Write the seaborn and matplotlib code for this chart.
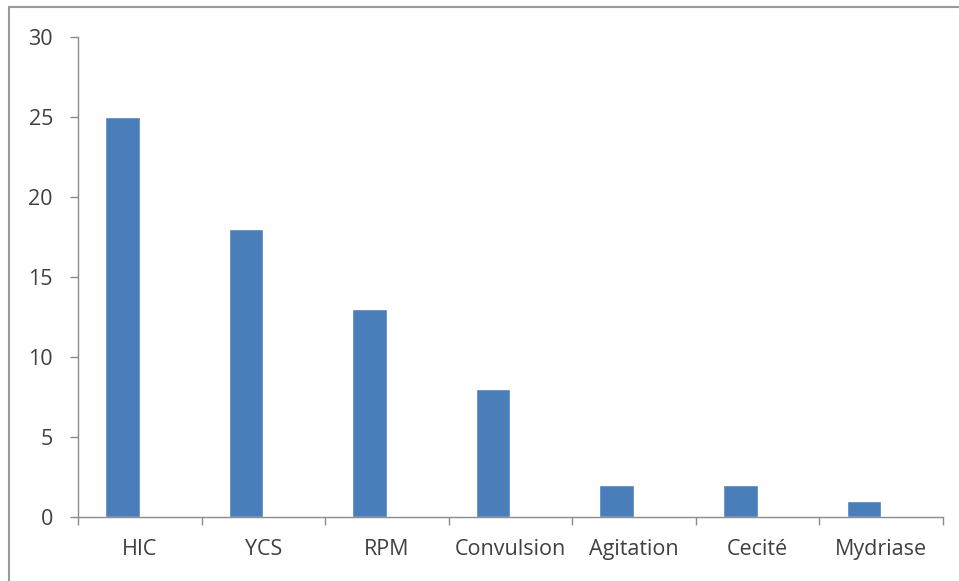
import numpy as np
import pandas as pd
import matplotlib.pyplot as plt
import seaborn as sns
from matplotlib.patches import Rectangle

CATEGORIES = ["HIC", "YCS", "RPM", "Convulsion", "Agitation", "Cecité", "Mydriase"]
VALUES = [25, 18, 13, 8, 2, 2, 1]
SERIES = ["Série 1", "Série 2"]  # second series empty, as in the source sheet
Y_TICKS = [0, 5, 10, 15, 20, 25, 30]

BAR_COLOR = "#4A7EBB"
AXIS_COLOR = "#8C8C8C"
TEXT_COLOR = "#404040"


def main():

    sns.set_theme(style="white")
    plt.rcParams["font.family"] = ["Open Sans", "DejaVu Sans"]

    df = pd.DataFrame({"category": CATEGORIES, "value": VALUES,
                       "series": [SERIES[0]] * len(CATEGORIES)})

    fig = plt.figure(figsize=(9.59, 5.81), dpi=100)
    ax = fig.add_axes([0.0813, 0.1102, 0.902, 0.8261])

    sns.barplot(data=df, x="category", y="value", order=CATEGORIES,
                hue="series", hue_order=SERIES,
                palette=[BAR_COLOR, BAR_COLOR], saturation=1,
                width=0.56, dodge=True, ax=ax)
    legend = ax.get_legend()
    if legend is not None:
        legend.remove()

    ax.set_xlim(-0.5, len(CATEGORIES) - 0.5)
    ax.set_ylim(0, 30)
    ax.set_yticks(Y_TICKS)
    ax.set_xlabel("")
    ax.set_ylabel("")

    for side in ["top", "right"]:
        ax.spines[side].set_visible(False)
    for side in ["left", "bottom"]:
        ax.spines[side].set_color(AXIS_COLOR)
        ax.spines[side].set_linewidth(1.0)

    ax.set_xticks(np.arange(len(CATEGORIES) + 1) - 0.5, minor=True)
    ax.tick_params(axis="x", which="major", length=0, pad=16,
                   labelsize=15.5, labelcolor=TEXT_COLOR)
    ax.tick_params(axis="x", which="minor", length=6, width=1.0,
                   color=AXIS_COLOR, direction="out", bottom=True)
    ax.tick_params(axis="y", length=6, width=1.0, color=AXIS_COLOR,
                   direction="out", left=True, pad=12,
                   labelsize=15.5, labelcolor=TEXT_COLOR)

    # outer chart frame
    fig.patches.append(Rectangle((0.009, -0.02), 1.2, 1.008,
                                 transform=fig.transFigure, fill=False,
                                 edgecolor="#9A9A9A", linewidth=1.5))

    fig.savefig("out.png", dpi=100)
    plt.close(fig)


if __name__ == "__main__":
    main()
